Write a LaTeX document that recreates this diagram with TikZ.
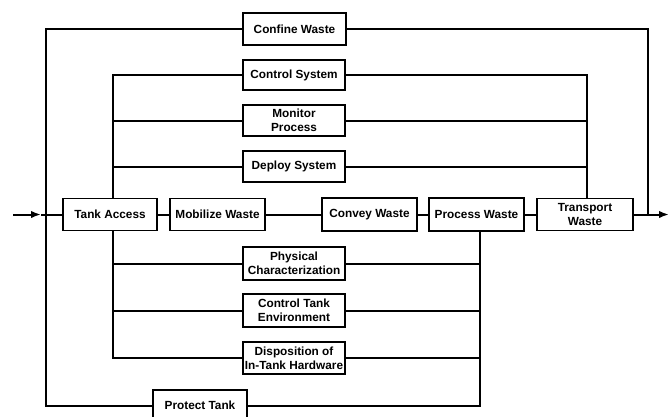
\documentclass[tikz,border=0pt]{standalone}
\usepackage{fontspec}
\setmainfont{Liberation Sans}
\usetikzlibrary{arrows.meta}
\begin{document}
\begin{tikzpicture}[x=1pt,y=-1pt,
  blk/.style={draw,line width=1.3pt,inner sep=0pt,align=center,
    font=\fontsize{11.8}{14}\selectfont\bfseries,minimum width=#1},
  blk/.default=102pt,
  conn/.style={line width=2pt},
  arr/.style={conn,-{Latex[length=10pt,width=7.5pt]}}]
\useasboundingbox (0,0) rectangle (669,416);
% top branch
\node[blk=103pt,minimum height=32pt] (confine) at (294.5,29) {Confine Waste};
\node[blk,minimum height=30pt] (control) at (294,75) {Control System};
\node[blk,minimum height=31pt] (monitor) at (294,120.5) {Monitor\\Process};
\node[blk,minimum height=31pt] (deploy) at (294,166.5) {Deploy System};
% main line
\node[blk=94pt,minimum height=32pt] (tank) at (110,214.5) {Tank Access};
\node[blk=95pt,minimum height=32pt] (mobilize) at (217.5,214.5) {Mobilize Waste};
\node[blk=95pt,minimum height=33pt] (convey) at (369.5,214.5) {Convey Waste};
\node[blk=95pt,minimum height=33pt] (process) at (476.5,214.5) {Process Waste};
\node[blk=96pt,minimum height=32pt] (transport) at (585,214.5) {Transport\\Waste};
% lower branch
\node[blk,minimum height=33pt] (physical) at (294,263.5) {Physical\\Characterization};
\node[blk,minimum height=33pt] (ctank) at (294,310.5) {Control Tank\\Environment};
\node[blk,minimum height=32pt] (dispo) at (294,358) {Disposition of\\In-Tank Hardware};
\node[blk=94pt,minimum height=31pt] (protect) at (200,405.5) {Protect Tank};
% coordinates
\coordinate (in) at (13,214.5);
\coordinate (tip) at (41,214.5);
\coordinate (out) at (669,214.5);
\coordinate (LL) at (46,405.5);
\coordinate (RJ) at (648,214.5);
\coordinate (LV) at (113,0);
\coordinate (RV) at (587,0);
\coordinate (PV) at (480,0);
% input arrow and main chain
\draw[arr] (in) -- (tip);
\draw[conn] (tip) -- (tank.west);
\draw[conn] (tank) -- (mobilize);
\draw[conn] (mobilize) -- (convey);
\draw[conn] (convey) -- (process);
\draw[conn] (process) -- (transport);
\draw[arr] (transport.east) -- (out);
% outer loop
\draw[conn] (confine.west) -| (LL) -- (protect.west);
\draw[conn] (confine.east) -| (RJ);
\draw[conn] (protect.east) -| (PV |- process.south);
% upper inner bus
\draw[conn] (control.west) -| (LV |- tank.north);
\draw[conn] (monitor.west) -- (monitor.west -| LV);
\draw[conn] (deploy.west) -- (deploy.west -| LV);
\draw[conn] (control.east) -| (RV |- transport.north);
\draw[conn] (monitor.east) -- (monitor.east -| RV);
\draw[conn] (deploy.east) -- (deploy.east -| RV);
% lower inner bus
\draw[conn] (LV |- tank.south) |- (dispo.west);
\draw[conn] (physical.west) -- (physical.west -| LV);
\draw[conn] (ctank.west) -- (ctank.west -| LV);
\draw[conn] (physical.east) -- (physical.east -| PV);
\draw[conn] (ctank.east) -- (ctank.east -| PV);
\draw[conn] (dispo.east) -- (dispo.east -| PV);
\end{tikzpicture}
\end{document}
